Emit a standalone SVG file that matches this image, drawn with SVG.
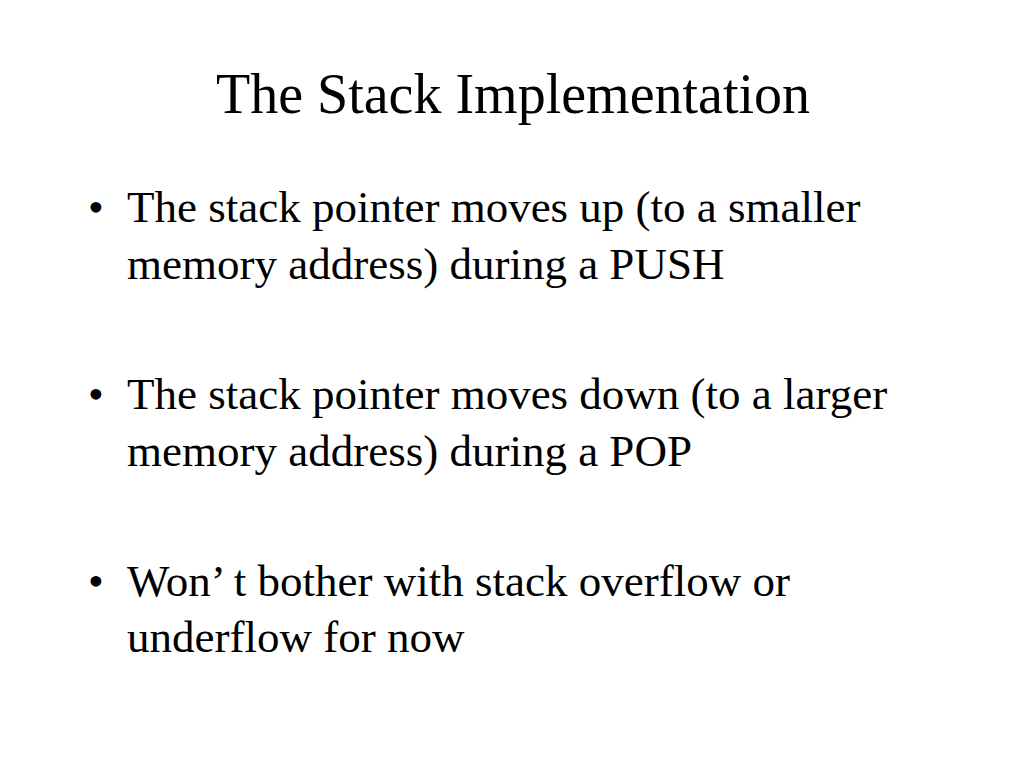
<svg xmlns="http://www.w3.org/2000/svg" width="1024" height="768" viewBox="0 0 1024 768">
<style>
text{font-family:"Liberation Serif","Times New Roman",serif;fill:#000}
.t{font-size:56px}
.b{font-size:45px}
</style>
<rect width="1024" height="768" fill="#fff"/>
<g id="title"><text class="t" x="513" y="113" text-anchor="middle">The Stack Implementation</text></g>
<g id="bullet1"><text class="b" x="88" y="222">•</text>
<text class="b" x="127" y="222">The stack pointer moves up (to a smaller</text>
<text class="b" x="127" y="279">memory address) during a PUSH</text></g>
<g id="bullet2"><text class="b" x="88" y="409">•</text>
<text class="b" x="127" y="409">The stack pointer moves down (to a larger</text>
<text class="b" x="127" y="466">memory address) during a POP</text></g>
<g id="bullet3"><text class="b" x="88" y="596">•</text>
<text class="b" x="127" y="596">Won’ t bother with stack overflow or</text>
<text class="b" x="127" y="652">underflow for now</text></g>
</svg>
